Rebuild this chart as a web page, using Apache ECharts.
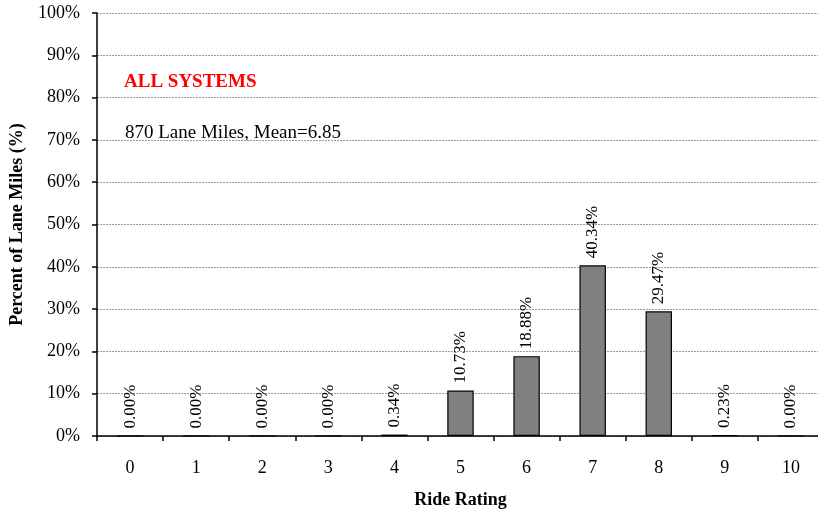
<!DOCTYPE html>
<html><head><meta charset="utf-8">
<script src="https://cdn.jsdelivr.net/npm/echarts@6/dist/echarts.min.js"></script>
<style>html,body{margin:0;padding:0;background:#fff}#c{width:818px;height:514px}</style>
</head><body><div id="c"></div>
<script>
const categories = ['0','1','2','3','4','5','6','7','8','9','10'];
const percentValues = [0.00, 0.00, 0.00, 0.00, 0.34, 10.73, 18.88, 40.34, 29.47, 0.23, 0.00];
const yTicks = [0,10,20,30,40,50,60,70,80,90,100];
const titleText = 'ALL SYSTEMS';
const noteText = '870 Lane Miles, Mean=6.85';
const F = '"Liberation Serif","Times New Roman",serif';
const chart = echarts.init(document.getElementById('c'));
chart.setOption({
  animation:false,
  grid:{left:97,width:727,top:13,height:423,containLabel:false,outerBoundsMode:'none'},
  graphic:[
    {type:'text',left:124,top:73,style:{text:titleText,fill:'#ff0000',font:'bold 19px '+F}},
    {type:'text',left:125,top:124,style:{text:noteText,fill:'#000',font:'19px '+F}}
  ],
  xAxis:{type:'category',data:categories,name:'Ride Rating',nameLocation:'middle',nameGap:55,
    nameTextStyle:{fontFamily:F,fontWeight:'bold',fontSize:18,color:'#000'},
    axisLine:{lineStyle:{color:'#000',width:1.5}},
    axisTick:{show:true,alignWithLabel:false,length:5,lineStyle:{color:'#000',width:1.5}},
    axisLabel:{fontFamily:F,fontSize:18,color:'#000',margin:23}},
  yAxis:{type:'value',min:0,max:100,interval:10,name:'Percent of Lane Miles (%)',nameLocation:'middle',nameGap:71,
    nameTextStyle:{fontFamily:F,fontWeight:'bold',fontSize:18,color:'#000'},
    axisLine:{show:true,lineStyle:{color:'#000',width:1.5}},
    axisTick:{show:true,length:5,lineStyle:{color:'#000',width:1.5}},
    axisLabel:{fontFamily:F,fontSize:18,color:'#000',margin:17,formatter:v=>yTicks.includes(v)?v+'%':''},
    splitLine:{show:true,lineStyle:{color:'#999',type:[2,1],width:1}}},
  series:[{type:'bar',data:percentValues,barWidth:'40%',
    itemStyle:{color:'#808080',borderColor:'#000',borderWidth:1.2},
    label:{show:true,position:'top',rotate:90,align:'left',verticalAlign:'middle',distance:7,
      fontFamily:F,fontSize:17,color:'#000',formatter:p=>p.value.toFixed(2)+'%'}}]
});
</script></body></html>
